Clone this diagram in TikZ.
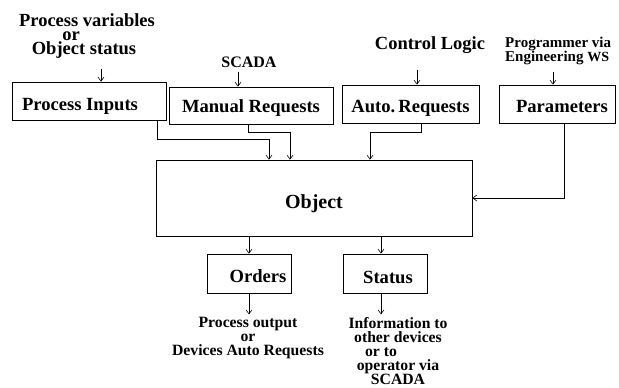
\documentclass[tikz,border=0pt]{standalone}
\usepackage{fontspec}
\setmainfont{Liberation Serif}
\usetikzlibrary{arrows.meta}
\newcommand{\lowr}[2]{\raisebox{-#1pt}[0pt][0pt]{#2}}
\newcommand{\padr}[2]{\hbox{#2\kern#1pt}}
\begin{document}
\begin{tikzpicture}[x=1pt,y=-1pt,
  box/.style={draw, line width=0.7pt, inner sep=0pt, font=\fontsize{18.6}{22}\selectfont\bfseries},
  lbl/.style={inner sep=0pt, anchor=north, align=center},
  arr/.style={-{Straight Barb[length=4pt,width=6pt]}, line width=0.6pt},
  ftop/.style={font=\fontsize{18.5}{14.2}\selectfont\bfseries},
  fbot/.style={font=\fontsize{15.7}{14}\selectfont\bfseries}]
\useasboundingbox (0,0) rectangle (619,388);

% boxes
\node[box, minimum width=154, minimum height=38] (pi) at (89,101) {\lowr{9}{Process Inputs}\hspace*{18pt}};
\node[box, minimum width=164, minimum height=37] (mr) at (251,105.5) {\lowr{6.5}{Manual Requests}};
\node[box, minimum width=137, minimum height=38] (ar) at (410.5,104) {\lowr{8}{Auto.\,Requests}};
\node[box, minimum width=116, minimum height=38] (pa) at (557,104) {\hspace*{10pt}\lowr{8}{Parameters}};
\node[box, minimum width=316, minimum height=76, font=\fontsize{20}{22}\selectfont\bfseries] (ob) at (314,198) {\lowr{10}{Object}};
\node[box, minimum width=84, minimum height=39] (or) at (249,273.5) {\hspace*{18pt}\lowr{8.5}{Orders}};
\node[box, minimum width=84, minimum height=39] (st) at (385,273.5) {\hspace*{6pt}\lowr{9.5}{Status}};

% top labels
\node[lbl, ftop] (pv) at (87,13) {Process variables\\\padr{32}{or}\\\padr{6}{Object status}};
\node[lbl, font=\fontsize{16}{18}\selectfont\bfseries] (sc) at (249,57) {SCADA};
\node[lbl, ftop] (cl) at (430,36) {Control Logic};
\node[lbl, align=left, anchor=north west, font=\fontsize{15}{14}\selectfont\bfseries] (pr) at (505,37) {Programmer via\\Engineering {\fontsize{14}{14}\selectfont WS}};

% bottom labels
\node[lbl, fbot] (po) at (248,317) {Process output\\or\\Devices Auto Requests};
\node[lbl, fbot] (inf) at (398,317) {Information to\\other devices\\\padr{34}{or to}\\operator via\\SCADA};

% input arrows
\draw[arr] ([xshift=12pt,yshift=13pt]pi.north) -- ([xshift=12pt]pi.north);
\draw[arr] ([xshift=-13pt,yshift=15pt]mr.north) -- ([xshift=-13pt]mr.north);
\draw[arr] ([xshift=6.5pt,yshift=15pt]ar.north) -- ([xshift=6.5pt]ar.north);
\draw[arr] ([xshift=-4pt,yshift=13pt]pa.north) -- ([xshift=-4pt]pa.north);

% connectors to object
\coordinate (pi1) at (157,139); \coordinate (pi2) at (269,139);
\draw[arr] (pi.south -| pi1) -- (pi1) -- (pi2) -- (pi2 |- ob.north);
\coordinate (mr1) at (248,132); \coordinate (mr2) at (290,132);
\draw[arr] (mr.south -| mr1) -- (mr1) -- (mr2) -- (mr2 |- ob.north);
\coordinate (ar1) at (421,132); \coordinate (ar2) at (370,132);
\draw[arr] (ar.south -| ar1) -- (ar1) -- (ar2) -- (ar2 |- ob.north);
\coordinate (pa1) at (564,198);
\draw[arr] (pa.south -| pa1) -- (pa1) -- (pa1 -| ob.east);

% outputs
\draw[arr] (ob.south -| or.north) -- (or.north);
\draw[arr] ([xshift=-4pt]st.north |- ob.south) -- ([xshift=-4pt]st.north);
\draw[arr] (or.south) -- ++(0,21);
\draw[arr] ([xshift=-4pt]st.south) -- ++(0,21);
\end{tikzpicture}
\end{document}
